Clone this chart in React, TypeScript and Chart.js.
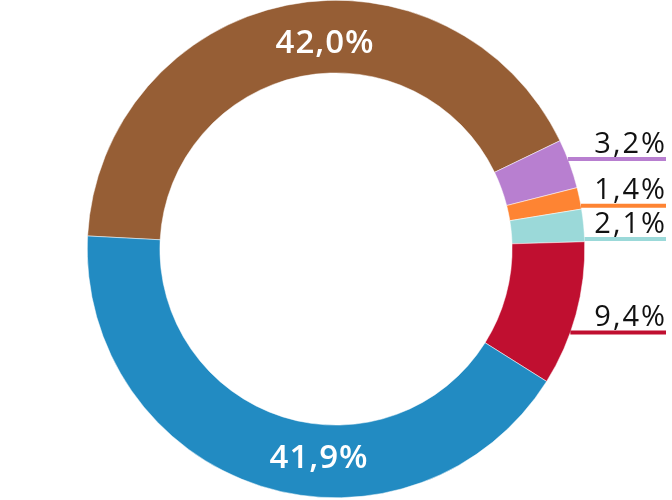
import React, { useEffect, useRef } from 'react';
import { Chart, registerables } from 'chart.js';

Chart.register(...registerables);

// ---- data ----
const categories = ['Segment 1', 'Segment 2', 'Segment 3', 'Segment 4', 'Segment 5', 'Segment 6'];
const values = [42.0, 3.2, 1.4, 2.1, 9.4, 41.9];
const valueLabels = ['42,0%', '3,2%', '1,4%', '2,1%', '9,4%', '41,9%'];
const colors = ['#965e35', '#b87fd0', '#fe8433', '#9bd9d9', '#c00f30', '#228bc2'];

// ---- label layout (style, not data) ----
// inside: offset from centre as fraction of outer radius (text baseline, centred)
// outside: angle (deg) on outer edge where the leader line starts
const placement: any[] = [
  { kind: 'inside', dx: -0.044, dy: -0.789 },
  { kind: 'outside', angle: -21.2 },
  { kind: 'outside', angle: -10.0 },
  { kind: 'outside', angle: -2.3 },
  { kind: 'outside', angle: 19.6 },
  { kind: 'inside', dx: -0.068, dy: 0.881 },
];

const labelPlugin = {
  id: 'sliceLabels',
  afterDatasetsDraw(chart: any) {
    const meta = chart.getDatasetMeta(0);
    const arc = meta.data[0];
    if (!arc) return;
    const cx = arc.x;
    const cy = arc.y;
    const R = arc.outerRadius;
    const ctx = chart.ctx;
    ctx.save();
    placement.forEach((p, i) => {
      const text = valueLabels[i];
      if (p.kind === 'inside') {
        ctx.font = '600 33px "Open Sans"';
        (ctx as any).letterSpacing = '1px';
        ctx.fillStyle = '#ffffff';
        ctx.textAlign = 'center';
        ctx.textBaseline = 'alphabetic';
        ctx.fillText(text, cx + p.dx * R, cy + p.dy * R);
      } else {
        const a = (p.angle * Math.PI) / 180;
        const y = cy + R * Math.sin(a);
        const x0 = cx + R * Math.cos(a);
        const x1 = chart.width - 6;
        ctx.strokeStyle = colors[i];
        ctx.lineWidth = 4;
        ctx.beginPath();
        ctx.moveTo(x0, y);
        ctx.lineTo(x1, y);
        ctx.stroke();
        ctx.font = '400 29px "Open Sans"';
        (ctx as any).letterSpacing = '2px';
        ctx.fillStyle = '#111111';
        ctx.textAlign = 'right';
        ctx.textBaseline = 'alphabetic';
        ctx.fillText(text, x1 + 1, y - 6.5);
      }
    });
    ctx.restore();
  },
};

export default function App() {
  const ref = useRef<HTMLCanvasElement | null>(null);
  useEffect(() => {
    if (!ref.current) return;
    const chart = new Chart(ref.current, {
      type: 'doughnut',
      data: {
        labels: categories,
        datasets: [
          {
            data: values,
            backgroundColor: colors,
            borderColor: '#ffffff',
            borderWidth: 0.5,
            hoverOffset: 0,
          },
        ],
      },
      options: {
        responsive: true,
        maintainAspectRatio: false,
        animation: false,
        rotation: 273,
        cutout: '70.8%',
        layout: { padding: { top: 0, bottom: 2, left: 0, right: 0 } },
        plugins: {
          legend: { display: false },
          tooltip: { enabled: false },
        },
      },
      plugins: [labelPlugin],
    });
    return () => chart.destroy();
  }, []);
  return (
    <div style={{ position: 'fixed', left: 0, top: 0, width: 672, height: 500, background: '#fff' }}>
      <canvas ref={ref} />
    </div>
  );
}
